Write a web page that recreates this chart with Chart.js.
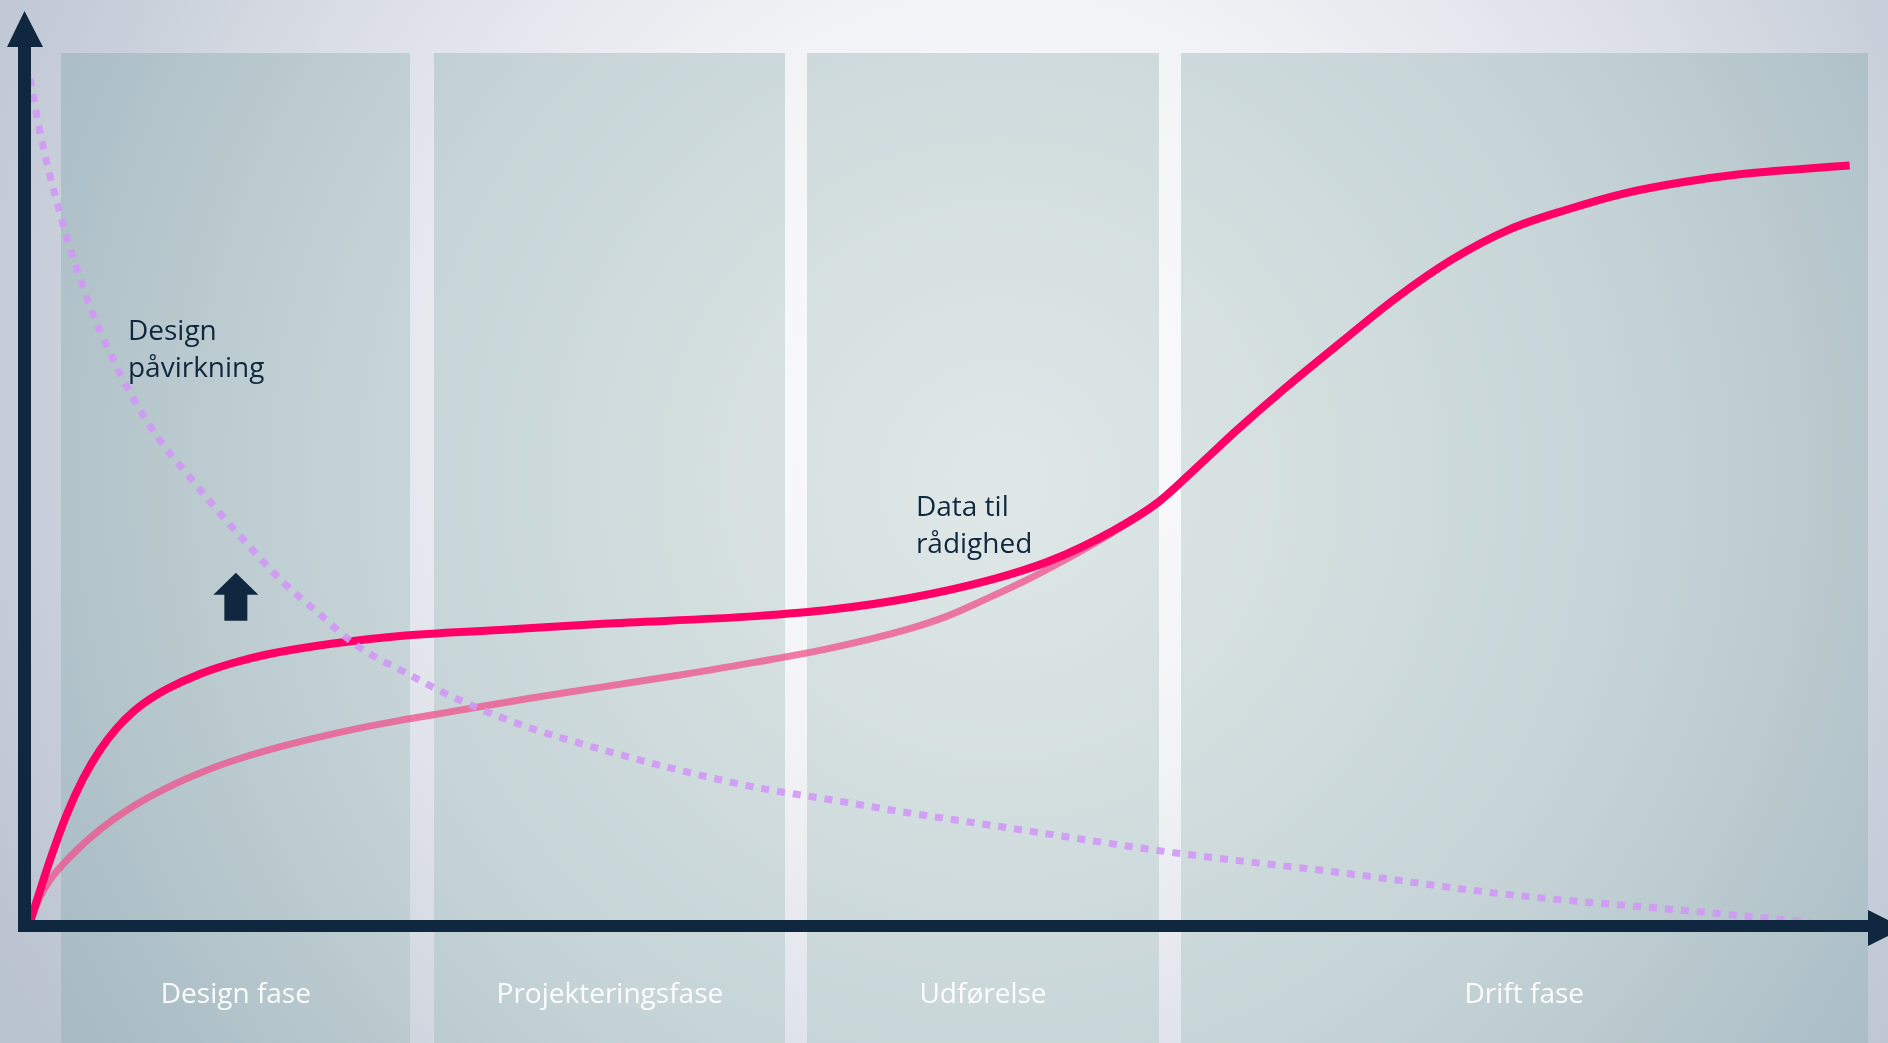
<!DOCTYPE html>
<html lang="da">
<head>
<meta charset="utf-8">
<title>Data til rådighed</title>
<script src="https://cdn.jsdelivr.net/npm/chart.js@4.4.1/dist/chart.umd.min.js"></script>
<style>
  html, body { margin: 0; padding: 0; background: #dfe3ea; overflow: hidden; }
  #wrap { width: 1888px; height: 1043px; position: relative; }
</style>
</head>
<body>
<div id="wrap"><canvas id="lifecycleChart"></canvas></div>
<script>
// Faser langs tidsaksen (0-100)
const phaseNames = ['Design fase', 'Projekteringsfase', 'Udførelse', 'Drift fase'];
const phaseStart = [1.7, 22.0, 42.3, 62.6];
const phaseEnd = [20.7, 41.1, 61.4, 100];

// Data til rådighed (fuld kurve)
const dataX = [0, 1.09, 2.01, 2.88, 3.81, 4.73, 5.60, 6.53, 7.45, 9.25, 11.04, 12.89, 16.49, 20.13,
  25.57, 31.2, 39.5, 43.7, 47.8, 52.0, 55.5, 58.9, 61.4, 63.6, 65.7, 68.2, 71.3, 74.3, 77.4,
  80.5, 83.6, 86.7, 89.8, 92.8, 95.9, 99.0];
const dataY = [0, 7.28, 12.68, 16.78, 20.19, 22.77, 24.65, 26.17, 27.35, 29.11, 30.40, 31.40, 32.69, 33.57,
  34.27, 35.0, 35.9, 36.7, 38.0, 40.0, 42.4, 45.9, 49.3, 53.6, 57.8, 62.5, 68.0, 73.2, 77.8,
  81.3, 83.6, 85.5, 86.8, 87.7, 88.3, 88.8];

// Traditionelt forløb (lys kurve) som mødes med den fulde kurve
const baseX = [0, 0.54, 1.09, 2.01, 3.81, 5.60, 7.45, 9.25, 11.04, 12.89, 16.49, 20.13, 22.85,
  27.04, 31.18, 35.36, 39.5, 43.69, 47.82, 49.9, 52.0, 54.1, 56.4, 58.2, 60.8];
const baseY = [0, 2.93, 4.93, 7.28, 10.85, 13.56, 15.75, 17.49, 18.92, 20.15, 22.09, 23.66, 24.66,
  26.2, 27.6, 29.0, 30.5, 32.2, 34.4, 35.9, 37.9, 40.0, 42.6, 44.8, 48.3];

// Design påvirkning (prikket)
const influenceX = [0, 0.44, 1.03, 1.69, 2.45, 3.32, 4.35, 5.55, 6.91, 8.54, 10.17, 11.97, 13.76,
  15.67, 17.74, 20.67, 23.01, 27.04, 31.18, 35.36, 39.50, 43.69, 47.82, 52.77, 62.02, 71.27,
  80.52, 89.77, 96.84];
const influenceY = [99.0, 93.8, 88.1, 82.7, 77.3, 71.9, 66.8, 61.7, 57.0, 52.6, 48.4, 44.0, 39.9,
  36.3, 32.5, 29.0, 26.4, 22.9, 20.2, 17.8, 15.8, 14.3, 12.8, 11.2, 8.2, 5.8,
  3.2, 1.4, 0.0];

const toPoints = (xs, ys) => xs.map((x, i) => ({ x: x, y: ys[i] }));

const NAVY = '#10283f';

// baggrund og fasefelter
const backdrop = {
  id: 'backdrop',
  beforeDraw(chart) {
    const { ctx, width, height, chartArea, scales: { x } } = chart;
    ctx.save();
    let g = ctx.createRadialGradient(1000, 400, 0, 1000, 400, 1150);
    g.addColorStop(0, '#fdfdfe');
    g.addColorStop(0.35, '#f2f3f6');
    g.addColorStop(0.6, '#dfe2ea');
    g.addColorStop(0.8, '#ccd2dc');
    g.addColorStop(1, '#bac3d0');
    ctx.fillStyle = g;
    ctx.fillRect(0, 0, width, height);

    const bandTop = chartArea.top - 17;
    let pg = ctx.createRadialGradient(1000, 480, 0, 1000, 480, 1060);
    pg.addColorStop(0, '#e0e8e7');
    pg.addColorStop(0.6, '#c6d4d7');
    pg.addColorStop(1, '#a9bcc4');
    ctx.fillStyle = pg;
    phaseStart.forEach((s, i) => {
      const x0 = Math.round(x.getPixelForValue(s));
      const x1 = Math.round(x.getPixelForValue(phaseEnd[i]));
      ctx.fillRect(x0, bandTop, x1 - x0, height - bandTop);
    });

    // fasenavne
    ctx.fillStyle = 'rgba(255,255,255,0.95)';
    ctx.font = '28px "Open Sans", "Noto Sans", sans-serif';
    ctx.textAlign = 'center';
    ctx.textBaseline = 'alphabetic';
    phaseNames.forEach((name, i) => {
      const cx = (x.getPixelForValue(phaseStart[i]) + x.getPixelForValue(phaseEnd[i])) / 2;
      ctx.fillText(name, cx, chartArea.bottom + 81);
    });
    ctx.restore();
  }
};

// akser med pile, tekster og pil-ikon
const overlay = {
  id: 'overlay',
  afterDatasetsDraw(chart) {
    const { ctx, chartArea: a, scales: { x, y } } = chart;
    ctx.save();
    ctx.fillStyle = NAVY;
    // lodret akse
    ctx.fillRect(a.left - 12, a.top - 23, 13, a.bottom - a.top + 33);
    ctx.beginPath();
    ctx.moveTo(a.left - 23, a.top - 23);
    ctx.lineTo(a.left + 13, a.top - 23);
    ctx.lineTo(a.left - 5.5, a.top - 59);
    ctx.closePath();
    ctx.fill();
    // vandret akse
    ctx.fillRect(a.left - 12, a.bottom - 2, a.right - a.left + 12, 12);
    ctx.beginPath();
    ctx.moveTo(a.right, a.bottom - 12);
    ctx.lineTo(a.right, a.bottom + 24);
    ctx.lineTo(a.right + 36, a.bottom + 6);
    ctx.closePath();
    ctx.fill();

    // pil op i designfasen
    const ax = (x.getPixelForValue(phaseStart[0]) + x.getPixelForValue(phaseEnd[0])) / 2;
    const ay = y.getPixelForValue(41);
    ctx.beginPath();
    ctx.moveTo(ax, ay);
    ctx.lineTo(ax + 22.5, ay + 22);
    ctx.lineTo(ax + 11.5, ay + 22);
    ctx.lineTo(ax + 11.5, ay + 48);
    ctx.lineTo(ax - 11.5, ay + 48);
    ctx.lineTo(ax - 11.5, ay + 22);
    ctx.lineTo(ax - 22.5, ay + 22);
    ctx.closePath();
    ctx.fill();

    // kurvetekster
    ctx.font = '28px "Open Sans", "Noto Sans", sans-serif';
    ctx.textAlign = 'left';
    ctx.textBaseline = 'alphabetic';
    const label = (lines, vx, vy) => {
      const px = x.getPixelForValue(vx), py = y.getPixelForValue(vy);
      lines.forEach((t, i) => ctx.fillText(t, px, py + i * 37));
    };
    label(['Design', 'påvirkning'], 5.33, 68.3);
    label(['Data til', 'rådighed'], 48.2, 47.65);
    ctx.restore();
  }
};

new Chart(document.getElementById('lifecycleChart'), {
  type: 'line',
  data: {
    datasets: [
      {
        label: 'Design påvirkning',
        data: toPoints(influenceX, influenceY),
        borderColor: 'rgba(208,152,245,0.9)',
        borderWidth: 7,
        borderDash: [8, 8],
        borderCapStyle: 'butt',
        cubicInterpolationMode: 'monotone',
        pointRadius: 0,
        clip: false,
        order: 0
      },
      {
        label: 'Data til rådighed',
        data: toPoints(dataX, dataY),
        borderColor: '#ff0066',
        borderWidth: 8,
        cubicInterpolationMode: 'monotone',
        pointRadius: 0,
        clip: false,
        order: 1
      },
      {
        label: 'Traditionelt',
        data: toPoints(baseX, baseY),
        borderColor: 'rgba(240,80,140,0.75)',
        borderWidth: 7,
        cubicInterpolationMode: 'monotone',
        pointRadius: 0,
        clip: false,
        order: 2
      }
    ]
  },
  options: {
    responsive: true,
    maintainAspectRatio: false,
    animation: false,
    events: [],
    layout: { padding: { left: 30, right: 20, top: 70, bottom: 121 } },
    plugins: {
      legend: { display: false },
      tooltip: { enabled: false }
    },
    scales: {
      x: { type: 'linear', min: 0, max: 100, display: false },
      y: { type: 'linear', min: 0, max: 100, display: false }
    }
  },
  plugins: [backdrop, overlay]
});
</script>
</body>
</html>
